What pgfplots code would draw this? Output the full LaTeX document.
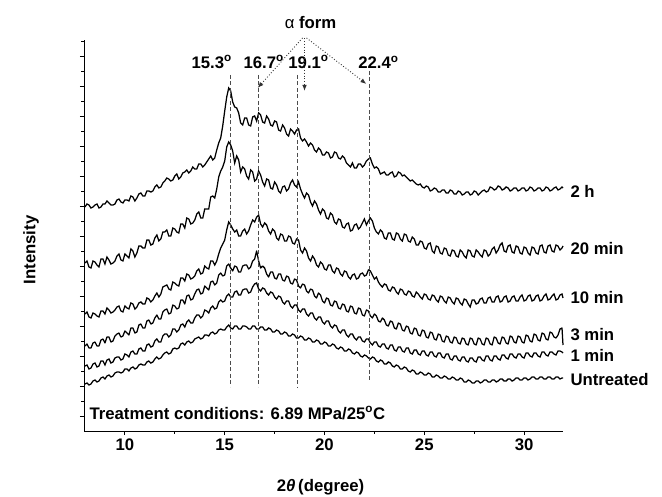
\documentclass[border=0pt]{standalone}
\usepackage{fontspec}
\setmainfont{Liberation Sans}
\usepackage{pgfplots}
\pgfplotsset{compat=1.18}
\usetikzlibrary{arrows.meta}
\newcommand\F{\fontsize{16.8}{19}\selectfont\bfseries}
\begin{document}
\begin{tikzpicture}
\useasboundingbox (-84bp,-66bp) rectangle (578bp,431bp);
\begin{axis}[
 at={(0,0)}, anchor=south west,
 scale only axis, width=479bp, height=391bp,
 xmin=7.95, xmax=31.95, ymin=0, ymax=391,
 axis x line*=bottom, axis y line*=left,
 axis line style={line width=1bp},
 xtick={10,15,20,25,30}, minor xtick={12.5,17.5,22.5,27.5},
 ytick={15,45,...,375}, minor ytick={30,60,...,390},
 yticklabels={},
 tick align=outside,
 major tick length=4bp, minor tick length=2.5bp,
 every tick/.style={black, line width=0.9bp},
 tick label style={font=\F},
 /pgf/number format/assume math mode=true,
 clip=false,
 cycle list={{black, solid, no markers, line join=round}},
 every axis plot/.append style={line width=1.25bp},
]
% 2 h
\addplot coordinates {
(8.0,224) (8.1,227) (8.2,226) (8.3,223) (8.4,224) (8.5,226) (8.6,227) (8.7,223) (8.8,224) (8.9,227)
(9.0,227) (9.1,230) (9.2,228) (9.3,226) (9.4,226) (9.5,227) (9.6,231) (9.7,232) (9.8,229) (9.9,228)
(10.0,231) (10.1,231) (10.2,230) (10.3,235) (10.4,234) (10.5,230) (10.6,233) (10.7,237) (10.8,238) (10.9,235)
(11.0,235) (11.1,240) (11.2,240) (11.3,239) (11.4,240) (11.5,244) (11.6,246) (11.7,243) (11.8,244) (11.9,248)
(12.0,250) (12.1,253) (12.2,252) (12.3,250) (12.4,251) (12.5,255) (12.6,257) (12.7,252) (12.8,254) (12.9,258)
(13.0,259) (13.1,261) (13.2,258) (13.3,260) (13.4,264) (13.5,262) (13.6,262) (13.7,267) (13.8,267) (13.9,264)
(14.0,266) (14.1,269) (14.2,272) (14.3,275) (14.4,271) (14.5,273) (14.6,281) (14.7,288) (14.8,293) (14.9,305)
(15.0,320) (15.1,334) (15.2,343) (15.3,340) (15.4,329) (15.5,324) (15.6,323) (15.7,318) (15.8,308) (15.9,306)
(16.0,313) (16.1,313) (16.2,306) (16.3,305) (16.4,314) (16.5,315) (16.6,310) (16.7,318) (16.8,316) (16.9,309)
(17.0,308) (17.1,315) (17.2,312) (17.3,306) (17.4,305) (17.5,310) (17.6,309) (17.7,301) (17.8,300) (17.9,306)
(18.0,303) (18.1,297) (18.2,295) (18.3,302) (18.4,300) (18.5,297) (18.6,301) (18.7,302) (18.8,293) (18.9,290)
(19.0,292) (19.1,289) (19.2,285) (19.3,288) (19.4,286) (19.5,281) (19.6,279) (19.7,283) (19.8,281) (19.9,276)
(20.0,276) (20.1,279) (20.2,278) (20.3,273) (20.4,274) (20.5,279) (20.6,278) (20.7,273) (20.8,272) (20.9,275)
(21.0,273) (21.1,268) (21.2,266) (21.3,264) (21.4,268) (21.5,263) (21.6,263) (21.7,267) (21.8,267) (21.9,264)
(22.0,266) (22.1,270) (22.2,272) (22.3,273) (22.4,267) (22.5,263) (22.6,264) (22.7,262) (22.8,257) (22.9,258)
(23.0,259) (23.1,256) (23.2,256) (23.3,258) (23.4,259) (23.5,254) (23.6,255) (23.7,259) (23.8,258) (23.9,255)
(24.0,256) (24.1,254) (24.2,252) (24.3,250) (24.4,251) (24.5,249) (24.6,247) (24.7,246) (24.8,247) (24.9,244)
(25.0,243) (25.1,245) (25.2,244) (25.3,240) (25.4,241) (25.5,243) (25.6,242) (25.7,239) (25.8,239) (25.9,241)
(26.0,241) (26.1,238) (26.2,238) (26.3,241) (26.4,240) (26.5,237) (26.6,237) (26.7,240) (26.8,239) (26.9,236)
(27.0,237) (27.1,239) (27.2,239) (27.3,236) (27.4,237) (27.5,240) (27.6,239) (27.7,236) (27.8,238) (27.9,240)
(28.0,241) (28.1,239) (28.2,240) (28.3,244) (28.4,243) (28.5,241) (28.6,242) (28.7,245) (28.8,244) (28.9,241)
(29.0,242) (29.1,244) (29.2,243) (29.3,240) (29.4,241) (29.5,243) (29.6,243) (29.7,240) (29.8,241) (29.9,243)
(30.0,243) (30.1,240) (30.2,241) (30.3,244) (30.4,243) (30.5,240) (30.6,241) (30.7,243) (30.8,243) (30.9,240)
(31.0,241) (31.1,244) (31.2,243) (31.3,240) (31.4,241) (31.5,243) (31.6,244) (31.7,241) (31.8,242) (31.9,244) (31.95,243)
};
% 20 min
\addplot coordinates {
(8.0,168) (8.1,170) (8.2,164) (8.3,163) (8.4,170) (8.5,169) (8.6,166) (8.7,164) (8.8,172) (8.9,172)
(9.0,167) (9.1,174) (9.2,171) (9.3,167) (9.4,168) (9.5,170) (9.6,175) (9.7,177) (9.8,171) (9.9,170)
(10.0,177) (10.1,175) (10.2,173) (10.3,182) (10.4,180) (10.5,174) (10.6,178) (10.7,185) (10.8,185) (10.9,183)
(11.0,183) (11.1,191) (11.2,191) (11.3,186) (11.4,187) (11.5,193) (11.6,196) (11.7,190) (11.8,192) (11.9,199)
(12.0,199) (12.1,201) (12.2,195) (12.3,195) (12.4,203) (12.5,202) (12.6,199) (12.7,198) (12.8,207) (12.9,207)
(13.0,203) (13.1,213) (13.2,212) (13.3,207) (13.4,208) (13.5,211) (13.6,217) (13.7,219) (13.8,213) (13.9,213)
(14.0,222) (14.1,222) (14.2,222) (14.3,234) (14.4,235) (14.5,233) (14.6,242) (14.7,254) (14.8,260) (14.9,264)
(15.0,270) (15.1,284) (15.2,289) (15.3,286) (15.4,280) (15.5,268) (15.6,275) (15.7,271) (15.8,259) (15.9,264)
(16.0,262) (16.1,255) (16.2,252) (16.3,261) (16.4,259) (16.5,250) (16.6,252) (16.7,260) (16.8,256) (16.9,249)
(17.0,245) (17.1,252) (17.2,251) (17.3,243) (17.4,242) (17.5,249) (17.6,246) (17.7,240) (17.8,238) (17.9,244)
(18.0,245) (18.1,240) (18.2,242) (18.3,248) (18.4,251) (18.5,246) (18.6,244) (18.7,249) (18.8,242) (18.9,237)
(19.0,233) (19.1,238) (19.2,236) (19.3,229) (19.4,225) (19.5,230) (19.6,227) (19.7,221) (19.8,217) (19.9,222)
(20.0,220) (20.1,213) (20.2,212) (20.3,218) (20.4,216) (20.5,209) (20.6,207) (20.7,212) (20.8,211) (20.9,204)
(21.0,203) (21.1,207) (21.2,208) (21.3,200) (21.4,201) (21.5,206) (21.6,207) (21.7,202) (21.8,204) (21.9,208)
(22.0,212) (22.1,206) (22.2,210) (22.3,213) (22.4,210) (22.5,203) (22.6,199) (22.7,197) (22.8,201) (22.9,199)
(23.0,193) (23.1,192) (23.2,198) (23.3,198) (23.4,192) (23.5,191) (23.6,198) (23.7,197) (23.8,192) (23.9,190)
(24.0,197) (24.1,196) (24.2,190) (24.3,189) (24.4,194) (24.5,192) (24.6,186) (24.7,186) (24.8,190) (24.9,189)
(25.0,183) (25.1,182) (25.2,187) (25.3,188) (25.4,180) (25.5,178) (25.6,185) (25.7,184) (25.8,178) (25.9,177)
(26.0,183) (26.1,182) (26.2,176) (26.3,175) (26.4,181) (26.5,180) (26.6,175) (26.7,174) (26.8,181) (26.9,179)
(27.0,175) (27.1,173) (27.2,181) (27.3,180) (27.4,175) (27.5,174) (27.6,181) (27.7,179) (27.8,176) (27.9,174)
(28.0,181) (28.1,180) (28.2,175) (28.3,177) (28.4,182) (28.5,184) (28.6,178) (28.7,181) (28.8,186) (28.9,188)
(29.0,180) (29.1,179) (29.2,185) (29.3,186) (29.4,179) (29.5,178) (29.6,185) (29.7,184) (29.8,178) (29.9,177)
(30.0,184) (30.1,183) (30.2,178) (30.3,176) (30.4,184) (30.5,183) (30.6,178) (30.7,177) (30.8,185) (30.9,186)
(31.0,179) (31.1,178) (31.2,185) (31.3,186) (31.4,180) (31.5,179) (31.6,186) (31.7,185) (31.8,181) (31.9,183) (31.95,185)
};
% 10 min
\addplot coordinates {
(8.0,117) (8.1,119) (8.2,114) (8.3,113) (8.4,118) (8.5,117) (8.6,115) (8.7,114) (8.8,120) (8.9,120)
(9.0,117) (9.1,123) (9.2,121) (9.3,118) (9.4,119) (9.5,121) (9.6,124) (9.7,125) (9.8,120) (9.9,119)
(10.0,125) (10.1,123) (10.2,122) (10.3,128) (10.4,127) (10.5,122) (10.6,124) (10.7,128) (10.8,129) (10.9,127)
(11.0,127) (11.1,133) (11.2,132) (11.3,129) (11.4,131) (11.5,135) (11.6,138) (11.7,134) (11.8,137) (11.9,144)
(12.0,145) (12.1,146) (12.2,142) (12.3,141) (12.4,149) (12.5,148) (12.6,146) (12.7,145) (12.8,153) (12.9,153)
(13.0,150) (13.1,157) (13.2,156) (13.3,152) (13.4,153) (13.5,155) (13.6,160) (13.7,162) (13.8,157) (13.9,158)
(14.0,165) (14.1,163) (14.2,162) (14.3,170) (14.4,170) (14.5,166) (14.6,170) (14.7,177) (14.8,183) (14.9,187)
(15.0,191) (15.1,201) (15.2,209) (15.3,206) (15.4,202) (15.5,199) (15.6,201) (15.7,195) (15.8,195) (15.9,200)
(16.0,202) (16.1,197) (16.2,200) (16.3,206) (16.4,211) (16.5,209) (16.6,214) (16.7,216) (16.8,207) (16.9,204)
(17.0,208) (17.1,206) (17.2,200) (17.3,197) (17.4,202) (17.5,200) (17.6,193) (17.7,191) (17.8,197) (17.9,196)
(18.0,190) (18.1,190) (18.2,195) (18.3,194) (18.4,188) (18.5,187) (18.6,192) (18.7,191) (18.8,181) (18.9,178)
(19.0,183) (19.1,180) (19.2,173) (19.3,170) (19.4,175) (19.5,172) (19.6,166) (19.7,164) (19.8,169) (19.9,167)
(20.0,162) (20.1,161) (20.2,166) (20.3,166) (20.4,160) (20.5,158) (20.6,163) (20.7,162) (20.8,157) (20.9,155)
(21.0,160) (21.1,159) (21.2,154) (21.3,152) (21.4,156) (21.5,157) (21.6,152) (21.7,153) (21.8,157) (21.9,158)
(22.0,155) (22.1,156) (22.2,161) (22.3,160) (22.4,156) (22.5,152) (22.6,154) (22.7,149) (22.8,146) (22.9,144)
(23.0,147) (23.1,146) (23.2,141) (23.3,140) (23.4,144) (23.5,143) (23.6,139) (23.7,137) (23.8,142) (23.9,141)
(24.0,137) (24.1,136) (24.2,140) (24.3,139) (24.4,135) (24.5,134) (24.6,139) (24.7,137) (24.8,134) (24.9,132)
(25.0,137) (25.1,136) (25.2,132) (25.3,131) (25.4,136) (25.5,135) (25.6,131) (25.7,129) (25.8,135) (25.9,134)
(26.0,130) (26.1,128) (26.2,134) (26.3,133) (26.4,129) (26.5,127) (26.6,133) (26.7,132) (26.8,128) (26.9,126)
(27.0,132) (27.1,131) (27.2,127) (27.3,124) (27.4,131) (27.5,131) (27.6,127) (27.7,128) (27.8,132) (27.9,133)
(28.0,128) (28.1,128) (28.2,133) (28.3,134) (28.4,129) (28.5,129) (28.6,134) (28.7,135) (28.8,129) (28.9,130)
(29.0,134) (29.1,135) (29.2,129) (29.3,130) (29.4,134) (29.5,135) (29.6,130) (29.7,130) (29.8,134) (29.9,136)
(30.0,130) (30.1,131) (30.2,135) (30.3,136) (30.4,130) (30.5,131) (30.6,135) (30.7,136) (30.8,130) (30.9,131)
(31.0,135) (31.1,137) (31.2,131) (31.3,132) (31.4,135) (31.5,137) (31.6,131) (31.7,132) (31.8,136) (31.9,137) (31.95,133)
};
% 3 min
\addplot coordinates {
(8.0,85) (8.1,87) (8.2,83) (8.3,83) (8.4,88) (8.5,89) (8.6,85) (8.7,85) (8.8,91) (8.9,92)
(9.0,88) (9.1,94) (9.2,94) (9.3,89) (9.4,90) (9.5,95) (9.6,97) (9.7,98) (9.8,94) (9.9,95)
(10.0,100) (10.1,98) (10.2,96) (10.3,103) (10.4,103) (10.5,98) (10.6,99) (10.7,106) (10.8,107) (10.9,103)
(11.0,103) (11.1,110) (11.2,111) (11.3,107) (11.4,108) (11.5,113) (11.6,116) (11.7,112) (11.8,112) (11.9,119)
(12.0,121) (12.1,122) (12.2,117) (12.3,118) (12.4,126) (12.5,125) (12.6,122) (12.7,123) (12.8,131) (12.9,131)
(13.0,127) (13.1,135) (13.2,136) (13.3,131) (13.4,132) (13.5,137) (13.6,141) (13.7,142) (13.8,137) (13.9,138)
(14.0,145) (14.1,143) (14.2,141) (14.3,149) (14.4,150) (14.5,146) (14.6,148) (14.7,156) (14.8,158) (14.9,155)
(15.0,156) (15.1,165) (15.2,167) (15.3,163) (15.4,160) (15.5,165) (15.6,164) (15.7,159) (15.8,159) (15.9,165)
(16.0,166) (16.1,166) (16.2,162) (16.3,164) (16.4,170) (16.5,172) (16.6,180) (16.7,170) (16.8,163) (16.9,165)
(17.0,163) (17.1,157) (17.2,154) (17.3,159) (17.4,159) (17.5,153) (17.6,152) (17.7,157) (17.8,157) (17.9,151)
(18.0,150) (18.1,155) (18.2,154) (18.3,148) (18.4,147) (18.5,152) (18.6,151) (18.7,145) (18.8,143) (18.9,147)
(19.0,146) (19.1,140) (19.2,138) (19.3,142) (19.4,141) (19.5,135) (19.6,133) (19.7,138) (19.8,136) (19.9,130)
(20.0,128) (20.1,133) (20.2,132) (20.3,126) (20.4,125) (20.5,130) (20.6,129) (20.7,123) (20.8,122) (20.9,127)
(21.0,126) (21.1,120) (21.2,119) (21.3,125) (21.4,124) (21.5,118) (21.6,117) (21.7,123) (21.8,122) (21.9,116)
(22.0,115) (22.1,121) (22.2,120) (22.3,115) (22.4,113) (22.5,117) (22.6,115) (22.7,110) (22.8,109) (22.9,113)
(23.0,111) (23.1,106) (23.2,105) (23.3,110) (23.4,109) (23.5,103) (23.6,102) (23.7,108) (23.8,107) (23.9,101)
(24.0,100) (24.1,105) (24.2,104) (24.3,98) (24.4,97) (24.5,103) (24.6,102) (24.7,96) (24.8,95) (24.9,101)
(25.0,100) (25.1,94) (25.2,93) (25.3,99) (25.4,98) (25.5,92) (25.6,91) (25.7,97) (25.8,96) (25.9,90)
(26.0,89) (26.1,95) (26.2,94) (26.3,89) (26.4,88) (26.5,94) (26.6,93) (26.7,88) (26.8,87) (26.9,93)
(27.0,92) (27.1,87) (27.2,86) (27.3,93) (27.4,92) (27.5,87) (27.6,86) (27.7,93) (27.8,92) (27.9,87)
(28.0,86) (28.1,93) (28.2,92) (28.3,87) (28.4,86) (28.5,94) (28.6,93) (28.7,88) (28.8,87) (28.9,94)
(29.0,93) (29.1,88) (29.2,87) (29.3,95) (29.4,94) (29.5,89) (29.6,88) (29.7,95) (29.8,94) (29.9,89)
(30.0,88) (30.1,96) (30.2,95) (30.3,90) (30.4,89) (30.5,97) (30.6,96) (30.7,91) (30.8,90) (30.9,98)
(31.0,97) (31.1,92) (31.2,91) (31.3,99) (31.4,98) (31.5,94) (31.6,93) (31.7,96) (31.8,102) (31.9,103) (31.95,86)
};
% 1 min
\addplot coordinates {
(8.0,65) (8.1,66) (8.2,62) (8.3,63) (8.4,67) (8.5,68) (8.6,64) (8.7,65) (8.8,70) (8.9,70)
(9.0,66) (9.1,71) (9.2,72) (9.3,68) (9.4,69) (9.5,73) (9.6,74) (9.7,74) (9.8,71) (9.9,72)
(10.0,77) (10.1,76) (10.2,74) (10.3,79) (10.4,80) (10.5,77) (10.6,77) (10.7,82) (10.8,83) (10.9,80)
(11.0,80) (11.1,86) (11.2,87) (11.3,84) (11.4,85) (11.5,90) (11.6,92) (11.7,89) (11.8,89) (11.9,95)
(12.0,97) (12.1,97) (12.2,94) (12.3,96) (12.4,102) (12.5,102) (12.6,99) (12.7,101) (12.8,106) (12.9,107)
(13.0,104) (13.1,109) (13.2,111) (13.3,108) (13.4,108) (13.5,113) (13.6,116) (13.7,116) (13.8,113) (13.9,115)
(14.0,121) (14.1,120) (14.2,118) (14.3,123) (14.4,125) (14.5,122) (14.6,123) (14.7,129) (14.8,131) (14.9,129)
(15.0,130) (15.1,135) (15.2,137) (15.3,134) (15.4,134) (15.5,139) (15.6,140) (15.7,136) (15.8,136) (15.9,141)
(16.0,142) (16.1,142) (16.2,138) (16.3,139) (16.4,144) (16.5,147) (16.6,148) (16.7,142) (16.8,140) (16.9,143)
(17.0,142) (17.1,138) (17.2,136) (17.3,139) (17.4,138) (17.5,134) (17.6,132) (17.7,135) (17.8,134) (17.9,129)
(18.0,127) (18.1,130) (18.2,130) (18.3,125) (18.4,123) (18.5,126) (18.6,126) (18.7,121) (18.8,119) (18.9,122)
(19.0,122) (19.1,117) (19.2,115) (19.3,118) (19.4,118) (19.5,113) (19.6,111) (19.7,114) (19.8,114) (19.9,109)
(20.0,107) (20.1,110) (20.2,110) (20.3,105) (20.4,103) (20.5,106) (20.6,105) (20.7,100) (20.8,98) (20.9,101)
(21.0,101) (21.1,96) (21.2,94) (21.3,97) (21.4,97) (21.5,93) (21.6,91) (21.7,94) (21.8,94) (21.9,90)
(22.0,89) (22.1,92) (22.2,92) (22.3,88) (22.4,86) (22.5,89) (22.6,89) (22.7,85) (22.8,84) (22.9,87)
(23.0,87) (23.1,83) (23.2,82) (23.3,86) (23.4,86) (23.5,81) (23.6,80) (23.7,84) (23.8,84) (23.9,80)
(24.0,79) (24.1,83) (24.2,83) (24.3,78) (24.4,77) (24.5,81) (24.6,81) (24.7,77) (24.8,76) (24.9,80)
(25.0,80) (25.1,76) (25.2,75) (25.3,79) (25.4,79) (25.5,75) (25.6,74) (25.7,78) (25.8,78) (25.9,74)
(26.0,73) (26.1,77) (26.2,77) (26.3,72) (26.4,71) (26.5,75) (26.6,75) (26.7,71) (26.8,70) (26.9,74)
(27.0,74) (27.1,70) (27.2,69) (27.3,73) (27.4,73) (27.5,70) (27.6,69) (27.7,74) (27.8,74) (27.9,71)
(28.0,70) (28.1,75) (28.2,75) (28.3,71) (28.4,70) (28.5,75) (28.6,75) (28.7,72) (28.8,71) (28.9,76)
(29.0,76) (29.1,73) (29.2,72) (29.3,77) (29.4,77) (29.5,74) (29.6,73) (29.7,77) (29.8,77) (29.9,74)
(30.0,73) (30.1,78) (30.2,78) (30.3,75) (30.4,74) (30.5,78) (30.6,78) (30.7,75) (30.8,74) (30.9,79)
(31.0,79) (31.1,76) (31.2,75) (31.3,79) (31.4,79) (31.5,77) (31.6,76) (31.7,80) (31.8,80) (31.9,79) (31.95,78)
};
% Untreated
\addplot coordinates {
(8.0,47) (8.1,48) (8.2,46) (8.3,47) (8.4,50) (8.5,51) (8.6,49) (8.7,50) (8.8,53) (8.9,54)
(9.0,52) (9.1,55) (9.2,56) (9.3,54) (9.4,55) (9.5,58) (9.6,59) (9.7,59) (9.8,58) (9.9,59)
(10.0,62) (10.1,62) (10.2,60) (10.3,63) (10.4,64) (10.5,62) (10.6,63) (10.7,66) (10.8,67) (10.9,66)
(11.0,66) (11.1,69) (11.2,70) (11.3,68) (11.4,69) (11.5,72) (11.6,74) (11.7,72) (11.8,73) (11.9,76)
(12.0,78) (12.1,79) (12.2,77) (12.3,78) (12.4,82) (12.5,83) (12.6,82) (12.7,83) (12.8,87) (12.9,88)
(13.0,86) (13.1,89) (13.2,90) (13.3,88) (13.4,89) (13.5,92) (13.6,93) (13.7,94) (13.8,92) (13.9,93)
(14.0,96) (14.1,96) (14.2,95) (14.3,98) (14.4,99) (14.5,97) (14.6,98) (14.7,101) (14.8,102) (14.9,101)
(15.0,101) (15.1,104) (15.2,106) (15.3,103) (15.4,102) (15.5,105) (15.6,105) (15.7,102) (15.8,102) (15.9,105)
(16.0,105) (16.1,104) (16.2,102) (16.3,102) (16.4,105) (16.5,105) (16.6,102) (16.7,102) (16.8,104) (16.9,104)
(17.0,101) (17.1,101) (17.2,103) (17.3,102) (17.4,99) (17.5,99) (17.6,101) (17.7,100) (17.8,97) (17.9,97)
(18.0,99) (18.1,98) (18.2,95) (18.3,95) (18.4,97) (18.5,96) (18.6,93) (18.7,93) (18.8,95) (18.9,94)
(19.0,91) (19.1,91) (19.2,93) (19.3,92) (19.4,89) (19.5,89) (19.6,91) (19.7,90) (19.8,87) (19.9,87)
(20.0,89) (20.1,88) (20.2,85) (20.3,85) (20.4,87) (20.5,86) (20.6,83) (20.7,82) (20.8,84) (20.9,83)
(21.0,80) (21.1,80) (21.2,82) (21.3,81) (21.4,78) (21.5,77) (21.6,79) (21.7,78) (21.8,75) (21.9,74)
(22.0,76) (22.1,75) (22.2,73) (22.3,72) (22.4,74) (22.5,73) (22.6,70) (22.7,69) (22.8,71) (22.9,70)
(23.0,67) (23.1,67) (23.2,69) (23.3,68) (23.4,65) (23.5,64) (23.6,66) (23.7,65) (23.8,62) (23.9,62)
(24.0,64) (24.1,63) (24.2,60) (24.3,59) (24.4,61) (24.5,60) (24.6,57) (24.7,57) (24.8,59) (24.9,58)
(25.0,56) (25.1,56) (25.2,58) (25.3,57) (25.4,54) (25.5,54) (25.6,56) (25.7,55) (25.8,53) (25.9,53)
(26.0,55) (26.1,54) (26.2,52) (26.3,52) (26.4,54) (26.5,53) (26.6,51) (26.7,51) (26.8,53) (26.9,52)
(27.0,49) (27.1,49) (27.2,51) (27.3,50) (27.4,48) (27.5,48) (27.6,50) (27.7,50) (27.8,48) (27.9,49)
(28.0,51) (28.1,51) (28.2,49) (28.3,49) (28.4,51) (28.5,51) (28.6,49) (28.7,50) (28.8,52) (28.9,52)
(29.0,50) (29.1,50) (29.2,52) (29.3,52) (29.4,50) (29.5,51) (29.6,53) (29.7,53) (29.8,51) (29.9,51)
(30.0,53) (30.1,53) (30.2,51) (30.3,52) (30.4,54) (30.5,54) (30.6,52) (30.7,52) (30.8,54) (30.9,54)
(31.0,52) (31.1,52) (31.2,54) (31.3,54) (31.4,52) (31.5,52) (31.6,54) (31.7,54) (31.8,52) (31.9,53) (31.95,53)
};
% reference lines
\draw[black!70, line width=1bp, dash pattern=on 4bp off 2.5bp] (axis cs:15.3,356) -- (axis cs:15.3,44);
\draw[black!70, line width=1bp, dash pattern=on 4bp off 2.5bp] (axis cs:16.68,356) -- (axis cs:16.68,44);
\draw[black!70, line width=1bp, dash pattern=on 4bp off 2.5bp] (axis cs:18.65,356) -- (axis cs:18.65,43);
\draw[black!70, line width=1bp, dash pattern=on 4bp off 2.5bp] (axis cs:22.25,360) -- (axis cs:22.25,51);
% peak labels
\node[font=\F] at (axis cs:14.35,369) {15.3\textsuperscript{o}};
\node[font=\F] at (axis cs:16.95,369) {16.7\textsuperscript{o}};
\node[font=\F] at (axis cs:19.2,369) {19.1\textsuperscript{o}};
\node[font=\F] at (axis cs:22.7,369) {22.4\textsuperscript{o}};
\node[font=\F] at (axis cs:19.3,408) {{\mdseries α} form};
% arrows
\draw[black!80, line width=0.9bp, dotted, -{Latex[length=6bp,width=4.5bp]}] (axis cs:18.9,393) -- (axis cs:16.65,343);
\draw[black!80, line width=0.9bp, dotted, -{Latex[length=6bp,width=4.5bp]}] (axis cs:19.0,393) -- (axis cs:19.0,340);
\draw[black!80, line width=0.9bp, dotted, -{Latex[length=6bp,width=4.5bp]}] (axis cs:19.1,393) -- (axis cs:22.1,347);
% curve labels
\node[font=\F, anchor=west] at (axis cs:32.15,240) {2 h};
\node[font=\F, anchor=west] at (axis cs:32.15,182) {20 min};
\node[font=\F, anchor=west] at (axis cs:32.15,133) {10 min};
\node[font=\F, anchor=west] at (axis cs:32.15,96) {3 min};
\node[font=\F, anchor=west] at (axis cs:32.15,76) {1 min};
\node[font=\F, anchor=west] at (axis cs:32.15,51) {Untreated};
\node[font=\F, anchor=west] at (axis cs:8.05,18) {Treatment conditions: 6.89 MPa/25\textsuperscript{o}C};
% axis titles
\node[font=\F, rotate=90] at (axis cs:5.3,181) {Intensity};
\node[font=\F] at (axis cs:19.8,-56) {2{\itshape θ}\,(degree)};
\end{axis}
\end{tikzpicture}
\end{document}
